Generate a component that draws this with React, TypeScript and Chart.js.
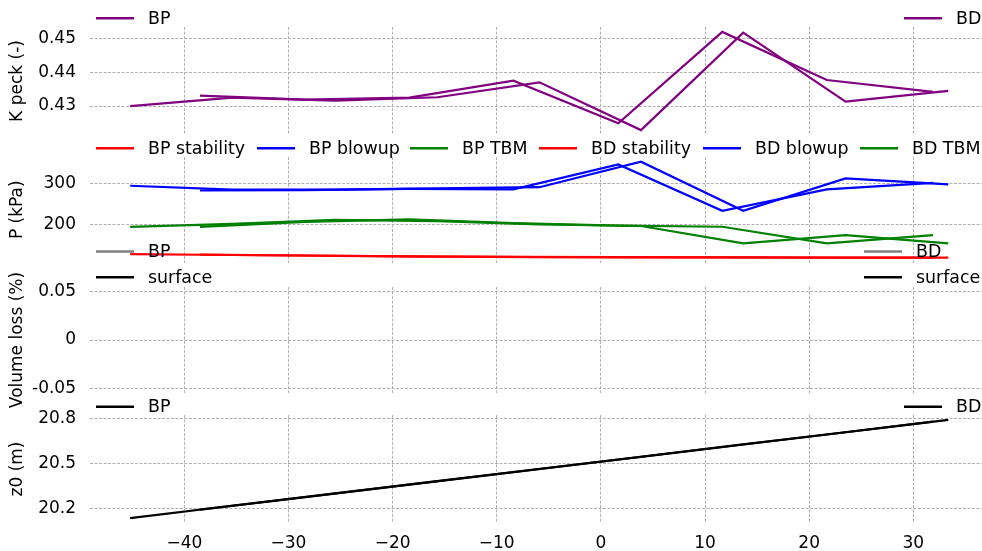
import React, { useEffect, useRef } from "react";
import { Chart, registerables } from "chart.js";

Chart.register(...registerables);

// ---------- data ----------
const xBP = [-45.2, -35.4, -25.5, -15.7, -5.9, 3.85, 13.67, 23.5, 33.36];
const xBD = [-38.5, -28.4, -18.4, -8.4, 1.67, 11.66, 21.7, 31.9];

const kPeckBP = [0.43, 0.4325, 0.4316, 0.4326, 0.437, 0.4229, 0.4517, 0.4313, 0.4345];
const kPeckBD = [0.4331, 0.4319, 0.4325, 0.4375, 0.4249, 0.4519, 0.4377, 0.4342];

const stabilityBP = [128, 125.8, 123.8, 121.8, 120.6, 120.2, 119.8, 119.4, 119.2];
const stabilityBD = [126.6, 124.5, 122.4, 121, 120.4, 120, 119.5, 119.3];
const blowupBP = [293.5, 284, 284, 287, 290, 351.6, 233, 311.4, 296.9];
const blowupBD = [282, 283, 286, 284.7, 345, 233, 284.7, 300.7];
const tbmBP = [194, 201, 211, 208, 200, 196, 154, 174, 154];
const tbmBD = [194, 206, 212, 203, 197, 194.2, 154, 174];

const volumeLossBP = [null, null, null, null, null, null, null, null, null];
const surfaceBP = [null, null, null, null, null, null, null, null, null];
const volumeLossBD = [null, null, null, null, null, null, null, null];
const surfaceBD = [null, null, null, null, null, null, null, null];

const z0BP = [20.133, 20.216, 20.299, 20.381, 20.463, 20.545, 20.628, 20.71, 20.793];
const z0BD = [20.19, 20.274, 20.358, 20.442, 20.527, 20.611, 20.695, 20.781];

const xTicks = [-40, -30, -20, -10, 0, 10, 20, 30];
const kPeckTicks = [0.43, 0.44, 0.45];
const pressureTicks = [200, 300];
const volumeTicks = [-0.05, 0, 0.05];
const z0Ticks = [20.2, 20.5, 20.8];

// ---------- styling ----------
const FONT = "'DejaVu Sans', sans-serif";
const GRID = "#b0b0b0";
const PURPLE = "#800080";
const RED = "#ff0000";
const BLUE = "#0000ff";
const GREEN = "#008000";
const GRAY = "#808080";
const BLACK = "#000000";

Chart.defaults.font.family = FONT;
Chart.defaults.font.size = 17;
Chart.defaults.color = "#000";

const zip = (xs: number[], ys: (number | null)[]) => xs.map((x, i) => ({ x, y: ys[i] }));

const line = (label: string, xs: number[], ys: (number | null)[], color: string) => ({
  label,
  data: zip(xs, ys),
  borderColor: color,
  backgroundColor: color,
  borderWidth: 2.2,
  pointRadius: 0,
  tension: 0,
  fill: false,
});

type LegendItem = { ds: number; x: number; y: number };

const makeLegendPlugin = (items: LegendItem[]) => ({
  id: "splitLegend",
  afterDraw(chart: any) {
    const ctx = chart.ctx;
    ctx.save();
    ctx.font = `17.4px ${FONT}`;
    ctx.textBaseline = "middle";
    ctx.textAlign = "left";
    for (const it of items) {
      const ds = chart.data.datasets[it.ds];
      ctx.setLineDash([]);
      ctx.strokeStyle = ds.borderColor;
      ctx.lineWidth = 2.5;
      ctx.beginPath();
      ctx.moveTo(it.x, it.y);
      ctx.lineTo(it.x + 38, it.y);
      ctx.stroke();
      ctx.fillStyle = "#000";
      ctx.fillText(ds.label, it.x + 52, it.y + 1);
    }
    ctx.restore();
  },
});

type PanelSpec = {
  top: number;
  height: number;
  datasets: any[];
  yMin: number;
  yMax: number;
  yTicks: number[];
  yFmt: (v: number) => string;
  yTitle: string;
  padTop: number;
  padBottom: number;
  showX: boolean;
  legend: LegendItem[];
};

const xFmt = (v: number) => (v < 0 ? "\u2212" + Math.abs(v) : String(v));

const buildConfig = (p: PanelSpec): any => ({
  type: "line",
  data: { datasets: p.datasets },
  plugins: [makeLegendPlugin(p.legend)],
  options: {
    animation: false,
    responsive: false,
    maintainAspectRatio: false,
    layout: { padding: { top: p.padTop, bottom: p.padBottom, left: 0, right: 0 } },
    plugins: { legend: { display: false }, tooltip: { enabled: false } },
    scales: {
      x: {
        type: "linear",
        min: -49.06,
        max: 36.6,
        afterBuildTicks: (s: any) => {
          s.ticks = xTicks.map((v) => ({ value: v }));
        },
        afterFit: (s: any) => {
          s.height = p.showX ? 28 : 0;
          s.paddingLeft = 0;
          s.paddingRight = 0;
          s.paddingTop = 0;
          s.paddingBottom = 0;
        },
        ticks: {
          display: p.showX,
          autoSkip: false,
          maxRotation: 0,
          padding: 10,
          color: "#000",
          font: { size: 17 },
          callback: (v: number) => xFmt(v),
        },
        grid: { color: GRID, lineWidth: 1, drawTicks: false },
        border: { display: false, dash: [3, 1.5] },
      },
      y: {
        type: "linear",
        min: p.yMin,
        max: p.yMax,
        afterBuildTicks: (s: any) => {
          s.ticks = p.yTicks.map((v) => ({ value: v }));
        },
        afterFit: (s: any) => {
          s.width = 90;
          s.paddingTop = 0;
          s.paddingBottom = 0;
          s.paddingLeft = 0;
          s.paddingRight = 0;
        },
        ticks: {
          padding: 14,
          color: "#000",
          font: { size: 17 },
          callback: (v: number) => p.yFmt(v),
        },
        grid: { color: GRID, lineWidth: 1, drawTicks: false },
        border: { display: false, dash: [3, 1.5] },
        title: {
          display: true,
          text: p.yTitle,
          color: "#000",
          font: { size: 17 },
          padding: { top: 7, bottom: 0 },
        },
      },
    },
  },
});

const panels: PanelSpec[] = [
  {
    top: 0,
    height: 140,
    datasets: [line("BP", xBP, kPeckBP, PURPLE), line("BD", xBD, kPeckBD, PURPLE)],
    yMin: 0.42145,
    yMax: 0.45335,
    yTicks: kPeckTicks,
    yFmt: (v) => v.toFixed(2),
    yTitle: "K peck (-)",
    padTop: 27,
    padBottom: 5,
    showX: false,
    legend: [
      { ds: 0, x: 96, y: 18.3 },
      { ds: 1, x: 904, y: 18.3 },
    ],
  },
  {
    top: 135,
    height: 135,
    datasets: [
      line("BP stability", xBP, stabilityBP, RED),
      line("BP blowup", xBP, blowupBP, BLUE),
      line("BP TBM", xBP, tbmBP, GREEN),
      line("BD stability", xBD, stabilityBD, RED),
      line("BD blowup", xBD, blowupBD, BLUE),
      line("BD TBM", xBD, tbmBD, GREEN),
    ],
    yMin: 107.6,
    yMax: 363.2,
    yTicks: pressureTicks,
    yFmt: (v) => String(v),
    yTitle: "P (kPa)",
    padTop: 22,
    padBottom: 7.5,
    showX: false,
    legend: [
      { ds: 0, x: 96, y: 13.3 },
      { ds: 1, x: 257, y: 13.3 },
      { ds: 2, x: 410, y: 13.3 },
      { ds: 3, x: 539, y: 13.3 },
      { ds: 4, x: 703, y: 13.3 },
      { ds: 5, x: 860, y: 13.3 },
    ],
  },
  {
    top: 236,
    height: 176,
    datasets: [
      line("BP", xBP, volumeLossBP, GRAY),
      line("surface", xBP, surfaceBP, BLACK),
      line("BD", xBD, volumeLossBD, GRAY),
      line("surface", xBD, surfaceBD, BLACK),
    ],
    yMin: -0.055,
    yMax: 0.055,
    yTicks: volumeTicks,
    yFmt: (v) => (v === 0 ? "0" : v.toFixed(2)),
    yTitle: "Volume loss (%)",
    padTop: 51,
    padBottom: 19,
    showX: false,
    legend: [
      { ds: 0, x: 96, y: 15.5 },
      { ds: 1, x: 96, y: 41.3 },
      { ds: 2, x: 864, y: 15.5 },
      { ds: 3, x: 864, y: 41.3 },
    ],
  },
  {
    top: 393,
    height: 158,
    datasets: [line("BP", xBP, z0BP, BLACK), line("BD", xBD, z0BD, BLACK)],
    yMin: 20.1,
    yMax: 20.826,
    yTicks: z0Ticks,
    yFmt: (v) => v.toFixed(1),
    yTitle: "z0 (m)",
    padTop: 22,
    padBottom: 0,
    showX: true,
    legend: [
      { ds: 0, x: 96, y: 13.7 },
      { ds: 1, x: 904, y: 13.7 },
    ],
  },
];

function Panel({ spec }: { spec: PanelSpec }) {
  const ref = useRef<HTMLCanvasElement>(null);
  useEffect(() => {
    if (!ref.current) return;
    const chart = new Chart(ref.current, buildConfig(spec));
    return () => chart.destroy();
  }, [spec]);
  return (
    <canvas
      ref={ref}
      width={982}
      height={spec.height}
      style={{ position: "absolute", left: 0, top: spec.top, width: 982, height: spec.height }}
    />
  );
}

export default function App() {
  useEffect(() => {
    document.body.style.margin = "0";
  }, []);
  return (
    <div
      style={{
        position: "absolute",
        left: 0,
        top: 0,
        width: 982,
        height: 551,
        overflow: "hidden",
        background: "#fff",
      }}
    >
      {panels.map((p, i) => (
        <Panel key={i} spec={p} />
      ))}
    </div>
  );
}
